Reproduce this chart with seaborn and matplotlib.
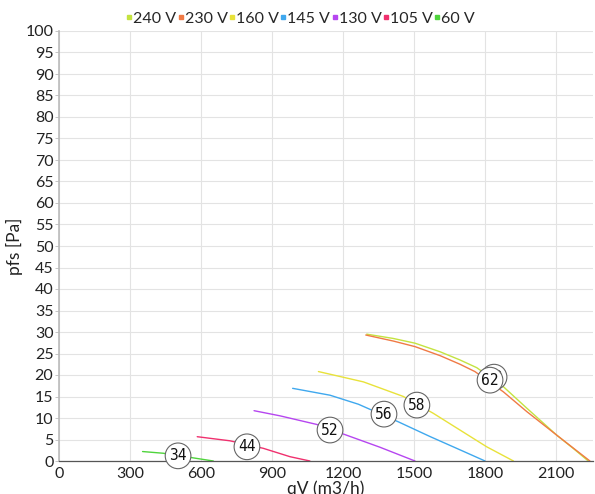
import matplotlib
matplotlib.use("Agg")
import matplotlib.pyplot as plt
import seaborn as sns
import pandas as pd
from matplotlib.lines import Line2D

# ---- data ----
series_names = ["240 V", "230 V", "160 V", "145 V", "130 V", "105 V", "60 V"]
colors = ["#c4e340", "#f07a45", "#e8e23a", "#3fa8ee", "#b646f0", "#f0306e", "#4fd43c"]

x_240 = [1300, 1412, 1504, 1610, 1694, 1765, 1877, 1976, 2103, 2173, 2236]
y_240 = [29.5, 28.5, 27.4, 25.4, 23.5, 21.7, 17.3, 12.3, 6.0, 2.9, 0.0]
x_230 = [1296, 1412, 1504, 1610, 1694, 1757, 1877, 1976, 2103, 2243]
y_230 = [29.3, 27.9, 26.6, 24.5, 22.5, 20.8, 16.1, 11.5, 6.0, 0.0]
x_160 = [1096, 1286, 1455, 1581, 1694, 1807, 1920]
y_160 = [20.8, 18.4, 15.0, 11.1, 7.2, 3.3, 0.0]
x_145 = [987, 1145, 1265, 1434, 1567, 1694, 1800]
y_145 = [16.9, 15.3, 13.2, 9.1, 5.7, 2.6, 0.0]
x_130 = [824, 934, 1089, 1215, 1356, 1504]
y_130 = [11.7, 10.5, 8.5, 6.0, 3.2, 0.0]
x_105 = [584, 722, 863, 976, 1060]
y_105 = [5.65, 4.7, 2.95, 1.0, 0.0]
x_60 = [353, 441, 582, 652]
y_60 = [2.2, 1.8, 0.6, 0.0]

label_text = ["62", "62", "58", "56", "52", "44", "34"]
label_x = [1838, 1821, 1512, 1373, 1145, 794, 503]
label_y = [19.5, 18.8, 13.0, 10.9, 7.2, 3.3, 1.2]

x_ticks = [0, 300, 600, 900, 1200, 1500, 1800, 2100]
y_ticks = list(range(0, 101, 5))

xs = [x_240, x_230, x_160, x_145, x_130, x_105, x_60]
ys = [y_240, y_230, y_160, y_145, y_130, y_105, y_60]
rows = []
for name, xv, yv in zip(series_names, xs, ys):
    for a, b in zip(xv, yv):
        rows.append({"series": name, "qV": a, "pfs": b})
df = pd.DataFrame(rows)

sns.set_theme(style="whitegrid")
plt.rcParams["font.family"] = ["Lato", "DejaVu Sans"]

fig = plt.figure(figsize=(5.95, 4.94), dpi=100)
ax = fig.add_axes([59 / 595, 1 - 461 / 494, (593 - 59) / 595, (461 - 31) / 494])

sns.lineplot(data=df, x="qV", y="pfs", hue="series", hue_order=series_names,
             palette=colors, estimator=None, sort=False, linewidth=1.0,
             legend=False, ax=ax)

for t, lx, ly in zip(label_text, label_x, label_y):
    ax.text(lx, ly, t, ha="center", va="center", fontsize=10.5,
            family="DejaVu Sans Mono", color="#111111", zorder=5,
            bbox=dict(boxstyle="circle,pad=0.28", fc="white", ec="#666666", lw=0.8))

ax.set_xlim(0, 2256)
ax.set_ylim(0, 100)
ax.set_xticks(x_ticks)
ax.set_yticks(y_ticks)
ax.tick_params(axis="both", labelsize=11.5, colors="#222222", length=3, width=0.6,
               pad=1)
ax.tick_params(axis="y", left=True, color="#bbbbbb")
ax.tick_params(axis="x", bottom=False)
ax.grid(True, color="#e3e3e3", linewidth=0.8)
for s in ["top", "right"]:
    ax.spines[s].set_visible(False)
ax.spines["left"].set_color("#bbbbbb")
ax.spines["left"].set_linewidth(1.2)
ax.spines["bottom"].set_color("#555555")
ax.spines["bottom"].set_linewidth(0.9)

ax.set_xlabel("qV (m3/h)", fontsize=12.5, color="#222222", labelpad=0)
ax.set_ylabel("pfs [Pa]", fontsize=12.5, color="#222222", labelpad=2)

handles = [Line2D([0], [0], marker="s", linestyle="none", markersize=3.2,
                  markerfacecolor=c, markeredgecolor=c) for c in colors]
fig.legend(handles, series_names, loc="center", bbox_to_anchor=(301 / 595, 1 - 19 / 494),
           ncol=7, frameon=False, fontsize=11.5, handlelength=0.25, handletextpad=0.12,
           columnspacing=0.15, borderpad=0)

fig.savefig("out.png", dpi=100)
